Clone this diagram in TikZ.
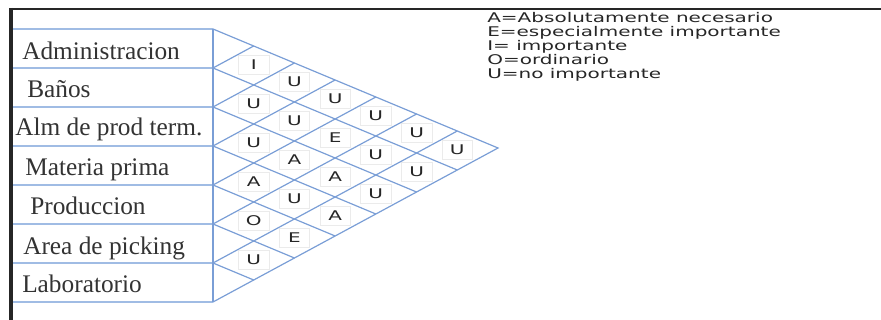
\documentclass[tikz,border=0pt]{standalone}
\usepackage{fontspec}
\setmainfont{Liberation Serif}
\newfontfamily\keyfont[FakeStretch=1.5]{DejaVu Sans}
\newfontfamily\cellfont[FakeStretch=1.5]{DejaVu Sans}
\usetikzlibrary{calc}
\definecolor{gridblue}{RGB}{122,158,214}
\definecolor{rowblue}{RGB}{160,188,228}

\begin{document}
\begin{tikzpicture}[
        x=0.75pt,
        y=-0.75pt,
        frame line/.style={black!85,line width=2pt},
        row line/.style={rowblue,line width=1.6pt},
        grid line/.style={gridblue,line width=0.9pt},
        department/.style={
            anchor=base west,inner sep=0pt,text=black!80,
            font=\fontsize{19}{20}\selectfont
        },
        rating/.style={
            fill=white,draw=black!8,line width=0.4pt,inner sep=0pt,
            minimum width=23pt,minimum height=14pt,text=black!85,
            font=\cellfont\fontsize{10}{11}\selectfont
        },
        key entry/.style={
            anchor=base west,inner sep=0pt,text=black!85,
            font=\keyfont\fontsize{10}{11}\selectfont
        }
    ]
        \useasboundingbox (0,0) rectangle (881,320);

        % The dark frame along the top and the left side.
        \draw[frame line] (10,9) -- (881,9);
        \draw[frame line,line width=2.4pt] (11,8) -- (11,320);

        % Row boundaries on the right side of the table, and the tip.
        \coordinate (b0) at (213,29);
        \coordinate (b1) at (213,68);
        \coordinate (b2) at (213,107);
        \coordinate (b3) at (213,146);
        \coordinate (b4) at (213,185);
        \coordinate (b5) at (213,224);
        \coordinate (b6) at (213,263);
        \coordinate (b7) at (213,302);
        \coordinate (apex) at (498,148);

        % The table with the departments.
        \draw[row line] (13,29) -- (b0);
        \draw[row line] (13,68) -- (b1);
        \draw[row line] (13,107) -- (b2);
        \draw[row line] (13,146) -- (b3);
        \draw[row line] (13,185) -- (b4);
        \draw[row line] (13,224) -- (b5);
        \draw[row line] (13,263) -- (b6);
        \draw[row line] (13,302) -- (b7);

        \node[department] (admin) at (22,60) {Administracion};
        \node[department] (banos) at (27,98) {Baños};
        \node[department] (almacen) at (15,136) {Alm de prod term.};
        \node[department] (materia) at (25,176) {Materia prima};
        \node[department] (produccion) at (30,215) {Produccion};
        \node[department] (picking) at (23,254) {Area de picking};
        \node[department] (lab) at (22,292) {Laboratorio};

        % The ratings, one for each pair of departments.
        \node[rating] (c12) at (253.7,64.5) {I};
        \node[rating] (c23) at (253.7,103.5) {U};
        \node[rating] (c34) at (253.7,142.5) {U};
        \node[rating] (c45) at (253.7,181.5) {A};
        \node[rating] (c56) at (253.7,220.5) {O};
        \node[rating] (c67) at (253.7,259.5) {U};

        \node[rating] (c13) at (294.4,81.5) {U};
        \node[rating] (c24) at (294.4,120.5) {U};
        \node[rating] (c35) at (294.4,159.5) {A};
        \node[rating] (c46) at (294.4,198.5) {U};
        \node[rating] (c57) at (294.4,237.5) {E};

        \node[rating] (c14) at (335.1,98.5) {U};
        \node[rating] (c25) at (335.1,137.5) {E};
        \node[rating] (c36) at (335.1,176.5) {A};
        \node[rating] (c47) at (335.1,215.5) {A};

        \node[rating] (c15) at (375.8,115.5) {U};
        \node[rating] (c26) at (375.8,154.5) {U};
        \node[rating] (c37) at (375.8,193.5) {U};

        \node[rating] (c16) at (416.6,132.5) {U};
        \node[rating] (c27) at (416.6,171.5) {U};

        \node[rating] (c17) at (457.3,149.5) {U};

        % Where the diagonals meet the two outer edges.
        \coordinate (top1) at ($(b0)!1/7!(apex)$);
        \coordinate (top2) at ($(b0)!2/7!(apex)$);
        \coordinate (top3) at ($(b0)!3/7!(apex)$);
        \coordinate (top4) at ($(b0)!4/7!(apex)$);
        \coordinate (top5) at ($(b0)!5/7!(apex)$);
        \coordinate (top6) at ($(b0)!6/7!(apex)$);
        \coordinate (bot1) at ($(b7)!6/7!(apex)$);
        \coordinate (bot2) at ($(b7)!5/7!(apex)$);
        \coordinate (bot3) at ($(b7)!4/7!(apex)$);
        \coordinate (bot4) at ($(b7)!3/7!(apex)$);
        \coordinate (bot5) at ($(b7)!2/7!(apex)$);
        \coordinate (bot6) at ($(b7)!1/7!(apex)$);

        % The triangle of diamonds.
        \draw[grid line] (b0) -- (b7);
        \draw[grid line] (b0) -- (apex) -- (b7);
        \draw[grid line] (b1) -- (bot1);
        \draw[grid line] (b2) -- (bot2);
        \draw[grid line] (b3) -- (bot3);
        \draw[grid line] (b4) -- (bot4);
        \draw[grid line] (b5) -- (bot5);
        \draw[grid line] (b6) -- (bot6);
        \draw[grid line] (b1) -- (top1);
        \draw[grid line] (b2) -- (top2);
        \draw[grid line] (b3) -- (top3);
        \draw[grid line] (b4) -- (top4);
        \draw[grid line] (b5) -- (top5);
        \draw[grid line] (b6) -- (top6);

        % The key to the letters.
        \node[key entry] (keyA) at (487,23) {A=Absolutamente necesario};
        \node[key entry] (keyE) at (487,37) {E=especialmente importante};
        \node[key entry] (keyI) at (487,51) {I= importante};
        \node[key entry] (keyO) at (487,65) {O=ordinario};
        \node[key entry] (keyU) at (487,79) {U=no importante};
    \end{tikzpicture}
\end{document}
